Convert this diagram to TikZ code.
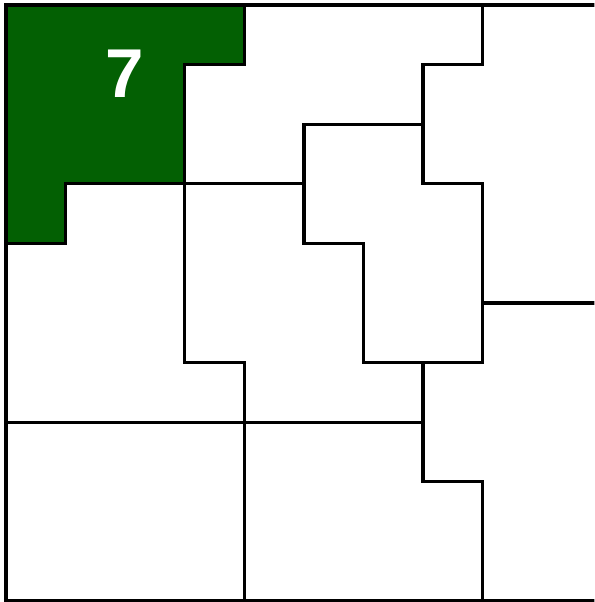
\documentclass[tikz,border=0pt]{standalone}
\usepackage{fontspec}
\setmainfont{Liberation Sans}
\definecolor{forest}{HTML}{036003}
\begin{document}
\begin{tikzpicture}[x=1cm,y=-1cm,wall/.style={line width=1.6pt,line cap=rect},every node/.style={font=\fontsize{33}{33}\selectfont\bfseries}]
\useasboundingbox (-0.1,-0.084) rectangle (9.875,10.017);
\clip (-0.1,-0.084) rectangle (9.875,10.017);
\fill[forest] (0,0) -- (4,0) -- (4,1) -- (3,1) -- (3,3) -- (1,3) -- (1,4) -- (0,4) -- cycle;
\node[text=white,inner sep=0pt] (seven) at (2,1.16) {7};
% outer frame
\draw[wall] (10,0) -- (0,0) -- (0,10) -- (10,10);
% region borders
\draw[wall] (4,0) -- (4,1) -- (3,1) -- (3,3) -- (1,3) -- (1,4) -- (0,4);
\draw[wall] (8,0) -- (8,1) -- (7,1) -- (7,3) -- (8,3) -- (8,6) -- (6,6) -- (6,4) -- (5,4) -- (5,2) -- (7,2);
\draw[wall] (3,3) -- (5,3);
\draw[wall] (3,3) -- (3,6) -- (4,6) -- (4,10);
\draw[wall] (0,7) -- (7,7);
\draw[wall] (7,6) -- (7,8) -- (8,8) -- (8,10);
\draw[wall] (8,5) -- (10,5);
\end{tikzpicture}
\end{document}
